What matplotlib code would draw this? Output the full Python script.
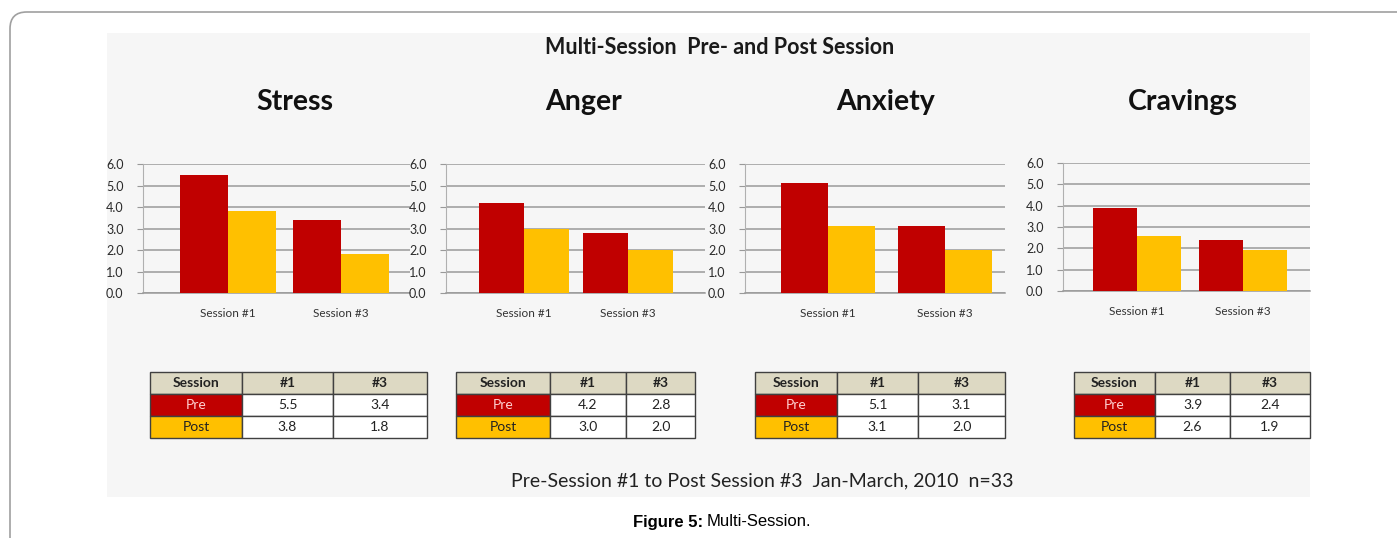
import numpy as np
import matplotlib
matplotlib.use("Agg")
from matplotlib import pyplot as plt
from matplotlib.patches import FancyBboxPatch, Rectangle

W, H = 1397, 538

# data
measures = ['Stress', 'Anger', 'Anxiety', 'Cravings']
sessions = ['Session #1', 'Session #3']
table_cols = ['Session', '#1', '#3']
pre = [[5.5, 3.4], [4.2, 2.8], [5.1, 3.1], [3.9, 2.4]]
post = [[3.8, 1.8], [3.0, 2.0], [3.1, 2.0], [2.6, 1.9]]
yticks = [0.0, 1.0, 2.0, 3.0, 4.0, 5.0, 6.0]

RED = '#c00000'
YEL = '#ffc000'
BEIGE = '#ddd9c3'
FONT = 'Lato'

# pixel layout per panel: y-axis x, right end x, group centres, bar width px,
# zero y, top y, title x, table column edges
panels = [
    dict(x0=143, x1=410, c=(228, 341), bw=48, y0=293, y6=164, tx=295,
         tab=(150, 242, 333, 427)),
    dict(x0=446, x1=705, c=(524, 628), bw=45, y0=293, y6=164, tx=584,
         tab=(456, 550, 626, 695)),
    dict(x0=745, x1=1005, c=(828, 945), bw=47, y0=293, y6=164, tx=886,
         tab=(755, 837, 918, 1005)),
    dict(x0=1063, x1=1310, c=(1137, 1243), bw=44, y0=291, y6=163, tx=1183,
         tab=(1074, 1155, 1230, 1310)),
]


def fig_rect(x0, y0, x1, y1):
    return [x0 / W, 1 - y1 / H, (x1 - x0) / W, (y1 - y0) / H]


fig = plt.figure(figsize=(W / 100, H / 100), dpi=100)
fig.patch.set_facecolor('white')

# outer rounded frame
frame = FancyBboxPatch((10 / W, -0.2), 1.2, 1 - 12 / H + 0.2,
                       boxstyle='round,pad=0,rounding_size=0.012',
                       transform=fig.transFigure, fill=False,
                       edgecolor='#a0a0a0', linewidth=1.2,
                       mutation_aspect=W / H, zorder=-2)
fig.patches.append(frame)

# grey picture background
fig.patches.append(Rectangle((107 / W, 1 - 497 / H), (1310 - 107) / W, (497 - 33) / H,
                             transform=fig.transFigure, facecolor='#f6f6f6',
                             edgecolor='none', zorder=-1))

fig.text(720 / W, 1 - 48 / H, 'Multi-Session  Pre- and Post Session',
         ha='center', va='center', fontsize=15.5, fontweight='bold', family=FONT,
         color='#1a1a1a')

for i, p in enumerate(panels):
    ax = fig.add_axes(fig_rect(p['x0'], p['y6'], p['x1'], p['y0']))
    ax.set_facecolor('none')
    spacing = p['c'][1] - p['c'][0]
    x = np.arange(len(sessions))
    bw = p['bw'] / spacing
    ax.bar(x - bw / 2, pre[i], width=bw, color=RED, zorder=3)
    ax.bar(x + bw / 2, post[i], width=bw, color=YEL, zorder=3)
    ax.set_xlim(-(p['c'][0] - p['x0']) / spacing, 1 + (p['x1'] - p['c'][1]) / spacing)
    ax.set_ylim(0, 6)
    ax.set_yticks(yticks)
    ax.set_yticklabels(['%.1f' % v for v in yticks], fontsize=9, family=FONT,
                       color='#2a2a2a')
    ax.set_xticks(x)
    ax.set_xticklabels(sessions, fontsize=8.5, family=FONT, color='#333333')
    ax.tick_params(axis='x', length=0, pad=11)
    ax.tick_params(axis='y', length=4, color='#999999', pad=10)
    ax.grid(axis='y', color='#9a9a9a', linewidth=1.1, zorder=0)
    for s in ['top', 'right']:
        ax.spines[s].set_visible(False)
    ax.spines['left'].set_color('#b0b0b0')
    ax.spines['bottom'].set_color('#9a9a9a')
    ax.spines['bottom'].set_linewidth(1.1)

    fig.text(p['tx'] / W, 1 - 102 / H, measures[i], ha='center', va='center',
             fontsize=20.5, fontweight='bold', family=FONT, color='#111111')

    # table
    t0, t1, t2, t3 = p['tab']
    tax = fig.add_axes(fig_rect(t0, 372, t3, 438))
    tax.axis('off')
    cells = [table_cols,
             ['Pre'] + ['%.1f' % v for v in pre[i]],
             ['Post'] + ['%.1f' % v for v in post[i]]]
    colours = [[BEIGE] * 3,
               [RED, 'white', 'white'],
               [YEL, 'white', 'white']]
    widths = np.array([t1 - t0, t2 - t1, t3 - t2], dtype=float)
    tab = tax.table(cellText=cells, cellColours=colours, cellLoc='center',
                    colWidths=list(widths / widths.sum()), bbox=[0, 0, 1, 1])
    tab.auto_set_font_size(False)
    for (r, c), cell in tab.get_celld().items():
        cell.set_edgecolor('#404040')
        cell.set_linewidth(1.0)
        txt = cell.get_text()
        txt.set_fontsize(10)
        txt.set_family(FONT)
        txt.set_color('#222222')
        if r == 0:
            txt.set_fontweight('bold')
        if r == 1 and c == 0:
            txt.set_color('#ffd0d0')

fig.text(762 / W, 1 - 481 / H,
         'Pre-Session #1 to Post Session #3  Jan-March, 2010  n=33',
         ha='center', va='center', fontsize=14, family=FONT, color='#222222')

fig.text(703 / W, 1 - 522 / H, 'Figure 5:', ha='right', va='center',
         fontsize=12, fontweight='bold', family='Liberation Sans')
fig.text(707 / W, 1 - 522 / H, 'Multi-Session.', ha='left', va='center',
         fontsize=12, family='Liberation Sans')

fig.savefig('out.png', dpi=100)
